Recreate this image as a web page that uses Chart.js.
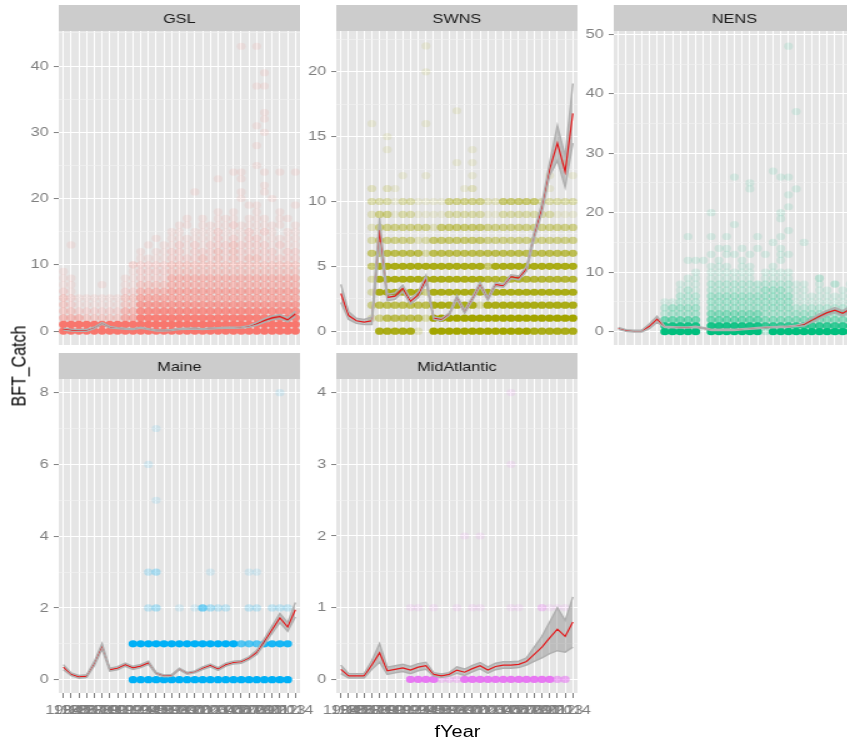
<!DOCTYPE html>
<html>
<head>
<meta charset="utf-8">
<title>BFT_Catch by fYear</title>
<script src="https://cdn.jsdelivr.net/npm/chart.js@4.4.1/dist/chart.umd.min.js"></script>
<style>
  html, body { margin: 0; padding: 0; background: #ffffff; overflow: hidden; width: 847px; height: 747px; }
  /* the whole figure is laid out 1.25x narrower, then widened */
  #stage { position: absolute; left: 0; top: 0; width: 678px; height: 747px; overflow: hidden;
           transform: scaleX(1.25); transform-origin: 0 0; }
  #stage canvas { position: absolute; }
  .axis-title { position: absolute; font-family: "Liberation Sans", Arial, sans-serif; font-size: 16px;
                color: #000000; white-space: nowrap; line-height: 1; }
  #xtitle { left: 366px; top: 732px; transform: translate(-50%, -50%); }
  #ytitle { left: 14.6px; top: 366px; transform: translate(-50%, -50%) rotate(-90deg); }
</style>
</head>
<body>
<div id="stage">
  <canvas id="c-gsl"></canvas>
  <canvas id="c-swns"></canvas>
  <canvas id="c-nens"></canvas>
  <canvas id="c-maine"></canvas>
  <canvas id="c-midatl"></canvas>
  <div class="axis-title" id="xtitle">fYear</div>
  <div class="axis-title" id="ytitle">BFT_Catch</div>
</div>
<script>
// ---- x categories (fYear) ----
const years = ['1984','1985','1986','1987','1988','1989','1990','1991','1992','1993',
               '1994','1995','1996','1997','1998','1999','2000','2001','2002','2003',
               '2004','2005','2006','2007','2008','2009','2010','2011','2012','2013','2014'];

// ---- yearly mean catch and half width of its interval, per area ----
const gslMean   = [0.3,0.15,0.1,0.1,0.5,1.15,0.6,0.45,0.35,0.3,0.5,0.3,0.1,0.1,0.15,0.3,0.35,0.4,0.3,0.4,0.45,0.5,0.5,0.55,0.7,1.1,1.6,2.0,2.2,1.7,2.6];
const gslHalf   = [0.15,0.15,0.15,0.15,0.12,0.12,0.12,0.08,0.08,0.08,0.08,0.08,0.08,0.08,0.08,0.08,0.08,0.08,0.08,0.08,0.08,0.08,0.08,0.08,0.12,0.22,0.28,0.3,0.32,0.3,0.4];

const swnsMean  = [2.9,1.2,0.8,0.7,0.8,7.8,2.6,2.7,3.3,2.3,2.8,4.0,1.0,0.9,1.3,2.6,1.5,2.5,3.6,2.5,3.6,3.5,4.2,4.1,4.8,7.4,9.5,12.5,14.5,12.3,16.8];
const swnsHalf  = [0.7,0.3,0.2,0.2,0.3,0.95,0.25,0.25,0.25,0.22,0.22,0.3,0.1,0.1,0.1,0.15,0.12,0.15,0.18,0.12,0.15,0.12,0.15,0.15,0.2,0.3,0.4,0.5,1.35,1.2,2.3];

const nensMean  = [0.55,0.2,0.1,0.1,0.9,2.1,0.8,0.75,0.7,0.7,0.8,0.6,0.3,0.3,0.35,0.3,0.4,0.5,0.6,0.7,0.75,0.8,0.85,1.0,1.2,1.9,2.6,3.2,3.6,3.1,3.8];
const nensHalf  = [0.15,0.15,0.15,0.15,0.4,0.5,0.1,0.1,0.1,0.1,0.1,0.1,0.1,0.1,0.1,0.1,0.1,0.1,0.1,0.1,0.1,0.1,0.1,0.1,0.25,0.35,0.4,0.4,0.45,0.45,0.5];

const maineMean = [0.35,0.15,0.08,0.1,0.45,0.93,0.28,0.32,0.42,0.33,0.38,0.47,0.18,0.11,0.12,0.3,0.18,0.22,0.32,0.4,0.3,0.42,0.48,0.5,0.6,0.76,1.07,1.4,1.72,1.47,1.95];
const maineHalf = [0.07,0.04,0.04,0.04,0.06,0.08,0.045,0.045,0.045,0.045,0.045,0.045,0.025,0.025,0.025,0.025,0.025,0.025,0.04,0.04,0.04,0.04,0.04,0.04,0.04,0.06,0.08,0.1,0.13,0.12,0.2];

const midMean   = [0.14,0.05,0.05,0.05,0.2,0.37,0.12,0.14,0.16,0.13,0.17,0.19,0.07,0.05,0.07,0.13,0.1,0.15,0.19,0.13,0.18,0.2,0.2,0.21,0.25,0.35,0.45,0.58,0.7,0.6,0.8];
const midHalf   = [0.06,0.03,0.03,0.03,0.06,0.13,0.05,0.05,0.05,0.05,0.05,0.05,0.025,0.025,0.025,0.045,0.045,0.045,0.045,0.045,0.045,0.045,0.045,0.045,0.05,0.1,0.15,0.22,0.3,0.22,0.35];

// ---- observed catches: [catch value, density per year 1984..2014 (0 = none, 9 = saturated)] ----
const gslDotRows = [
  [0,  '99999 99999 99999 99999 99999 99999 9'],
  [1,  '99999 99999 99999 99999 99999 99999 9'],
  [2,  '44433 33355 88888 88888 88888 88888 8'],
  [3,  '33222 22244 77777 77777 77777 77777 7'],
  [4,  '32111 11133 66666 66666 66666 66666 6'],
  [5,  '32111 11133 55555 55555 55555 55555 5'],
  [6,  '21000 00022 44445 55555 55555 55555 5'],
  [7,  '11000 00011 33334 44444 44444 44444 4'],
  [8,  '11000 00011 22224 44444 44444 44444 4'],
  [9,  '10000 00001 22223 33333 33333 33333 3'],
  [10, '00000 00001 22223 33333 33333 33333 3'],
  [11, '00000 00000 11112 22232 32323 32222 2'],
  [12, '00000 00000 10112 21222 32322 22212 2'],
  [13, '00000 00000 01011 21212 22322 22121 1'],
  [14, '00000 00000 00101 11111 21212 21111 1'],
  [15, '00000 00000 00001 10111 21112 12101 1'],
  [16, '00000 00000 00000 11011 11211 11110 1'],
  [17, '00000 00000 00000 01010 11101 11011 0']
];
// single catches above the dense rows: [year index, catch]
const gslSingles = [[1,13],[9,10],[5,7],[20,18],[22,18],[25,18],[28,18],[24,19],[25,19],[30,19],
  [23,20],[27,20],[17,21],[23,21],[26,21],[26,22],[20,23],[23,23],[22,24],[23,24],[26,24],[28,24],
  [30,24],[25,25],[25,28],[26,30],[25,31],[26,32],[26,33],[25,37],[26,37],[26,39],[23,43],[25,43]];

const swnsDotRows = [
  [0,  '00000 88888 20999 99999 99999 88888 8'],
  [1,  '00002 46666 63999 99999 99999 99999 9'],
  [2,  '00004 66666 66888 88838 88888 88888 8'],
  [3,  '00003 88888 84888 88888 88888 88888 8'],
  [4,  '00003 88888 88888 88887 77777 77777 7'],
  [5,  '00005 88888 88888 88885 88888 88888 8'],
  [6,  '00005 66666 63666 66666 66666 66666 6'],
  [7,  '00003 44444 23555 55554 44444 44444 4'],
  [8,  '00002 44444 44255 55554 44444 44444 4'],
  [9,  '00002 44133 11113 33331 13333 33311 1'],
  [10, '00003 33133 11114 44442 25555 53333 3'],
  [11, '00002 02100 00000 01200 00000 00100 0']
];
const swnsSingles = [[8,12],[11,12],[17,12],[27,12],[30,12],[15,13],[17,13],[29,13],[6,14],[17,14],
  [6,15],[4,16],[11,16],[15,17],[11,20],[11,22]];

const nensDotRows = [
  [0,  '00000 09999 90999 99992 99999 99999 9'],
  [1,  '00000 08888 80888 88887 77777 77777 7'],
  [2,  '00000 05555 50555 55554 44444 44444 4'],
  [3,  '00000 02333 30444 44443 33333 33333 3'],
  [4,  '00000 02333 30333 33333 33322 22222 2'],
  [5,  '00000 01122 20333 33333 33311 11111 1'],
  [6,  '00000 00022 20333 33333 33311 11111 1'],
  [7,  '00000 00012 10222 22223 33211 01101 1'],
  [8,  '00000 00011 10222 22222 22211 01010 1'],
  [9,  '00000 00001 10111 11101 11100 01000 0'],
  [10, '00000 00000 10111 11101 11100 00000 0']
];
const nensSingles = [[22,48],[23,37],[20,27],[21,26],[22,26],[15,26],[17,25],[17,24],[23,24],[22,23],
  [22,21],[12,20],[21,20],[21,19],[15,18],[22,17],[12,16],[18,16],[21,16],[9,16],[14,16],[24,15],[20,15],
  [14,14],[18,14],[21,14],[13,14],[16,14],[12,13],[15,13],[21,13],[22,13],[14,13],[17,13],[19,13],
  [10,12],[11,12],[21,12],[9,12],[13,12],[16,12],[12,11],[20,11],[13,11],[14,11],[16,11],[17,11],
  [26,9],[28,8]];

const maineDotRows = [
  [0, '00000 00009 99999 99999 99999 99999 0'],
  [1, '00000 00009 99999 99999 99966 68888 0'],
  [2, '00000 00000 02300 10153 22002 20222 0'],
  [3, '00000 00000 02300 00001 00001 10000 0']
];
const maineSingles = [[12,5],[11,6],[12,7],[28,8]];

const midDotRows = [
  [0, '00000 00008 88833 38888 88888 88855 0'],
  [1, '00000 00001 10100 10110 00110 03111 0']
];
const midSingles = [[16,2],[18,2],[22,3],[22,4]];

// ---- drawing ----
const FONT = '"Liberation Sans", Arial, sans-serif';
const STRIP_H = 26, PANEL_W = 193, PANEL_H = 314, Y_AXIS_W = 40, X_AXIS_H = 32, OVERHANG = 20;
const COL_LEFT = [47.4, 269.4, 491.4];
const ROW_TOP = [5, 353];
const ALPHA = [0, 0.10, 0.19, 0.27, 0.41, 0.52, 0.65, 0.77, 0.90, 1];

function rgba(hex, a) {
  const n = parseInt(hex.slice(1), 16);
  return 'rgba(' + (n >> 16 & 255) + ',' + (n >> 8 & 255) + ',' + (n & 255) + ',' + a + ')';
}

// grey panel background and the facet strip above it
const panelStrip = {
  id: 'panelStrip',
  beforeDraw(chart, args, opts) {
    const { ctx, chartArea: a } = chart;
    ctx.save();
    ctx.fillStyle = '#E5E5E5';
    ctx.fillRect(a.left, a.top, a.right - a.left, a.bottom - a.top);
    ctx.fillStyle = '#CCCCCC';
    ctx.fillRect(a.left, a.top - STRIP_H, a.right - a.left, STRIP_H);
    ctx.fillStyle = '#1A1A1A';
    ctx.font = '13px ' + FONT;
    ctx.textAlign = 'center';
    ctx.textBaseline = 'middle';
    ctx.fillText(opts.text, (a.left + a.right) / 2, a.top - STRIP_H / 2 + 1.5);
    ctx.restore();
  }
};

const panels = [
  { id: 'c-gsl',   title: 'GSL',         col: 0, row: 0, yMin: -2.1,  yMax: 45.3,  yStep: 10, mean: gslMean,   half: gslHalf,   rows: gslDotRows,   singles: gslSingles,   color: '#F8766D' },
  { id: 'c-swns',  title: 'SWNS',        col: 1, row: 0, yMin: -1.07, yMax: 23.15, yStep: 5,  mean: swnsMean,  half: swnsHalf,  rows: swnsDotRows,  singles: swnsSingles,  color: '#A3A500' },
  { id: 'c-nens',  title: 'NENS',        col: 2, row: 0, yMin: -2.24, yMax: 50.55, yStep: 10, mean: nensMean,  half: nensHalf,  rows: nensDotRows,  singles: nensSingles,  color: '#00BF7D' },
  { id: 'c-maine', title: 'Maine',       col: 0, row: 1, yMin: -0.37, yMax: 8.38,  yStep: 2,  mean: maineMean, half: maineHalf, rows: maineDotRows, singles: maineSingles, color: '#00B0F6' },
  { id: 'c-midatl',title: 'MidAtlantic', col: 1, row: 1, yMin: -0.19, yMax: 4.19,  yStep: 1,  mean: midMean,   half: midHalf,   rows: midDotRows,   singles: midSingles,   color: '#E76BF3' }
];

function buildPanel(p) {
  const showX = p.row === 1;
  const canvas = document.getElementById(p.id);
  canvas.width = Y_AXIS_W + PANEL_W + (showX ? OVERHANG : 0);
  canvas.height = STRIP_H + PANEL_H + (showX ? X_AXIS_H : 0);
  canvas.style.left = (COL_LEFT[p.col] - Y_AXIS_W) + 'px';
  canvas.style.top = ROW_TOP[p.row] + 'px';

  const dots = [], dotColors = [];
  p.rows.forEach(([value, pattern]) => {
    const s = pattern.replace(/\s/g, '');
    for (let i = 0; i < s.length; i++) {
      const lv = +s[i];
      if (lv > 0) { dots.push({ x: i, y: value }); dotColors.push(rgba(p.color, ALPHA[lv])); }
    }
  });
  p.singles.forEach(([i, value]) => { dots.push({ x: i, y: value }); dotColors.push(rgba(p.color, ALPHA[1])); });

  const meanPts = () => p.mean.map((v, i) => ({ x: i, y: v }));
  const upPts = () => p.mean.map((v, i) => ({ x: i, y: v + p.half[i] }));
  const loPts = () => p.mean.map((v, i) => ({ x: i, y: v - p.half[i] }));
  const isMajor = v => Math.abs(v / p.yStep - Math.round(v / p.yStep)) < 1e-6;
  const EDGE = '#B0B0B0';

  new Chart(canvas, {
    type: 'line',
    data: {
      datasets: [
        { type: 'line', data: upPts(),   borderColor: EDGE, borderWidth: 1.4, pointRadius: 0, fill: false, order: 0 },
        { type: 'line', data: loPts(),   borderColor: EDGE, borderWidth: 1.4, pointRadius: 0, fill: false, order: 1 },
        { type: 'line', data: meanPts(), borderColor: '#E31A1C', borderWidth: 1.2, pointRadius: 0, fill: false, order: 2 },
        { type: 'line', data: upPts(),   borderColor: 'transparent', pointRadius: 0, fill: '+1', backgroundColor: 'rgba(130,130,130,0.4)', order: 3 },
        { type: 'line', data: loPts(),   borderColor: 'transparent', pointRadius: 0, fill: false, order: 4 },
        { type: 'scatter', data: dots, showLine: false, pointRadius: 3.6, pointBorderWidth: 0,
          pointBackgroundColor: dotColors, backgroundColor: dotColors, order: 5 }
      ]
    },
    options: {
      responsive: false,
      animation: false,
      events: [],
      layout: { autoPadding: false, padding: { top: STRIP_H, left: 0, right: showX ? OVERHANG : 0, bottom: 0 } },
      plugins: { legend: { display: false }, tooltip: { enabled: false }, panelStrip: { text: p.title } },
      scales: {
        x: {
          type: 'linear', min: -0.6, max: 30.6,
          afterBuildTicks: s => { s.ticks = years.map((_, i) => ({ value: i })); },
          afterFit: s => { s.height = showX ? X_AXIS_H : 0; s.paddingLeft = 0; s.paddingRight = 0; },
          border: { display: false },
          grid: { color: '#FFFFFF', lineWidth: 1, drawTicks: showX, tickLength: 5, tickColor: '#7F7F7F', tickWidth: 1 },
          ticks: { display: showX, autoSkip: false, maxRotation: 0, minRotation: 0, padding: 5,
                   color: '#7F7F7F', font: { family: FONT, size: 13 }, callback: (v, i) => years[i] }
        },
        y: {
          min: p.yMin, max: p.yMax,
          afterBuildTicks: s => {
            const h = p.yStep / 2, t = [];
            for (let k = Math.ceil(p.yMin / h); k * h <= p.yMax + 1e-9; k++) t.push({ value: k * h });
            s.ticks = t;
          },
          afterFit: s => { s.width = Y_AXIS_W; s.paddingTop = 0; s.paddingBottom = 0; },
          border: { display: false },
          grid: {
            color: c => (c.tick && isMajor(c.tick.value)) ? '#FFFFFF' : '#F2F2F2',
            lineWidth: c => (c.tick && isMajor(c.tick.value)) ? 1.1 : 0.6,
            tickLength: 4, tickWidth: 1,
            tickColor: c => (c.tick && isMajor(c.tick.value)) ? '#7F7F7F' : 'rgba(0,0,0,0)'
          },
          ticks: { autoSkip: false, padding: 4, color: '#7F7F7F', font: { family: FONT, size: 13 },
                   callback: v => isMajor(v) ? String(Math.round(v)) : '' }
        }
      }
    },
    plugins: [panelStrip]
  });
}

panels.forEach(buildPanel);
</script>
</body>
</html>
